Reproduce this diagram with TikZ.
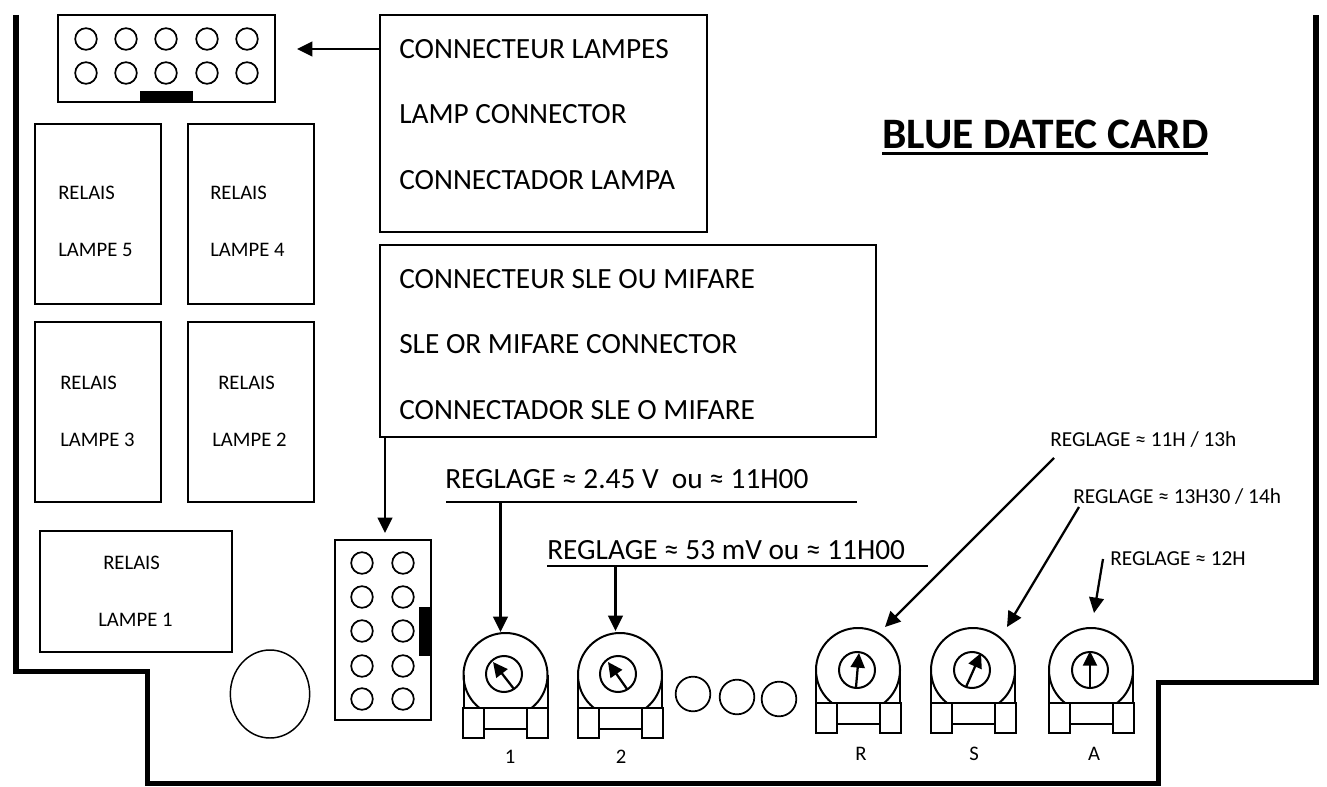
\documentclass[tikz,border=0pt]{standalone}
\usepackage{fontspec}
\setmainfont{Carlito}
\usetikzlibrary{arrows.meta,shapes.geometric}
\newcommand{\fs}[1]{\fontsize{#1}{#1}\selectfont}
\tikzset{
 x=0.75pt,y=-0.75pt,
 thin line/.style={draw=black,line width=1.5pt},
 rectnode/.style={draw=black,line width=1.5pt,fill=white,inner sep=0pt,outer sep=0pt},
 pin/.style={circle,draw=black,line width=1.3pt,inner sep=0pt,minimum size=16.2pt},
 lab/.style={anchor=west,inner sep=0pt,font=\fs{22}},
 rel/.style={anchor=west,inner sep=0pt,font=\fs{15.5}},
 digit/.style={anchor=center,inner sep=0pt,font=\fs{15.5}},
 small/.style={anchor=west,inner sep=0pt,font=\fs{16}},
 arr/.style={draw=black,line width=1.7pt,-{Triangle[length=11.5pt,width=11pt]}},
 outline/.style={draw=black,line width=4.4pt,line cap=butt,line join=miter},
 round/.style={circle,draw=black,line width=1.3pt,inner sep=0pt,minimum size=26pt},
}
\newcommand{\bx}[6][]{\node[rectnode,minimum width=(#5-#3)*0.75pt,minimum height=(#6-#4)*0.75pt,#1] (#2) at ({(#3+#5)/2},{(#4+#6)/2}) {};}
\newcommand{\pot}[6]{%
 \begin{scope}[shift={(#2,#3)}]
  \draw[thin line] (-42,0) -- (-42,33);
  \draw[thin line] (42,0) -- (42,33);
  \begin{scope}
   \clip (-60,-60) rectangle (60,33);
   \draw[thin line] (0,0) circle[radius=42];
  \end{scope}
  \draw[thin line] (-42,33) -- (42,33);
  \node[rectnode,minimum width=44*0.75pt,minimum height=21*0.75pt] (#1m) at (0,43.5) {};
  \node[rectnode,minimum width=21*0.75pt,minimum height=30*0.75pt] (#1l) at (-32,48) {};
  \node[rectnode,minimum width=21*0.75pt,minimum height=30*0.75pt] (#1r) at (32,48) {};
  \node[circle,draw=black,line width=1.5pt,inner sep=0pt,minimum size=27pt] (#1c) at (#4) {};
  \coordinate (#1s) at (#5);
  \coordinate (#1e) at (#6);
  \draw[draw=black,line width=1.7pt,-{Triangle[length=11pt,width=10.5pt]}] (#1s) -- (#1e);
 \end{scope}}
\begin{document}
\begin{tikzpicture}
\useasboundingbox (0,0) rectangle (1327,787);
\fill[white] (0,0) rectangle (1327,787);
% outline
\draw[outline] (16,15) -- (16,671.5) -- (147.5,671.5) -- (147.5,783.5) -- (1158.5,783.5) -- (1158.5,682.5) -- (1316,682.5) -- (1316,15);
% lamp connector
\bx{lampconn}{58}{15}{275}{102}
\fill[black] (140,91) rectangle (193,102.5);
\foreach \x/\i in {86/1,126/2,166/3,207/4,247/5}{
 \node[pin] (lu\i) at (\x,39) {};
 \node[pin] (ld\i) at (\x,73) {};
}
% lamp box
\bx{lampbox}{380}{15}{707}{232}
\node[lab] (t1) at (399,49) {CONNECTEUR LAMPES};
\node[lab] (t2) at (399,114) {LAMP CONNECTOR};
\node[lab] (t3) at (399,180) {CONNECTADOR LAMPA};
\coordinate (lampfrom) at (380,49);
\coordinate (lampto) at (297,49);
\draw[arr] (lampfrom) -- (lampto);
% relays
\bx{r5}{35}{124}{161}{304}
\bx{r4}{188}{124}{314}{304}
\bx{r3}{35}{322}{161}{502}
\bx{r2}{188}{322}{314}{502}
\bx{r1}{40}{531}{232}{652}
\node[rel] (r5a) at (58,193) {RELAIS};
\node[rel] (r5b) at (58,250) {LAMPE 5};
\node[rel] (r4a) at (210,193) {RELAIS};
\node[rel] (r4b) at (210,250) {LAMPE 4};
\node[rel] (r3a) at (60,383) {RELAIS};
\node[rel] (r3b) at (60,440) {LAMPE 3};
\node[rel] (r2a) at (218,383) {RELAIS};
\node[rel] (r2b) at (212,440) {LAMPE 2};
\node[rel] (r1a) at (103,563) {RELAIS};
\node[rel] (r1b) at (98,620) {LAMPE 1};
% SLE box
\bx{slebox}{380}{245}{876}{437}
\node[lab] (s1) at (399,279) {CONNECTEUR SLE OU MIFARE};
\node[lab] (s2) at (399,344) {SLE OR MIFARE CONNECTOR};
\node[lab] (s3) at (399,410) {CONNECTADOR SLE O MIFARE};
% SLE connector
\bx{sleconn}{335}{540}{431}{720}
\fill[black] (419,607) rectangle (431,656);
\foreach \y/\i in {563/1,597/2,631/3,666/4,699/5}{
 \node[pin] (sa\i) at (362,\y) {};
 \node[pin] (sb\i) at (403,\y) {};
}
\coordinate (slefrom) at (385,437);
\coordinate (sleto) at (385,533);
\draw[arr] (slefrom) -- (sleto);
% title
\node[anchor=west,inner sep=0pt,font=\fs{32.6}\bfseries] (title) at (882,134) {BLUE DATEC CARD};
\coordinate (tua) at (882,153.5); \coordinate (tub) at (1208,153.5);
\draw[draw=black,line width=2.2pt] (tua) -- (tub);
% ellipse and circles
\node[ellipse,draw=black,line width=1.1pt,inner sep=0pt,minimum width=59.5pt,minimum height=66pt] (big) at (270,694) {};
\node[round] (c1) at (693,694) {};
\node[round] (c2) at (737,697) {};
\node[round] (c3) at (779,699) {};
% pots
\pot{p1}{505.5}{675}{-1.5,-1}{8.5,14}{-12.5,-13}
\pot{p2}{620}{675}{-2,-1}{7,14}{-12,-13}
\pot{pR}{858}{670}{-1,0}{-2,17}{1,-17}
\pot{pS}{973}{670}{-1,0}{-7,17}{8,-17}
\pot{pA}{1091}{670}{-1,0}{-1,18}{-1,-19}
\node[digit] (n1) at (510,757) {1};
\node[digit] (n2) at (621,757) {2};
\node[digit] (nR) at (861,754) {R};
\node[digit] (nS) at (974,754) {S};
\node[digit] (nA) at (1094,754) {A};
% reglage
\node[lab] (g1) at (445,479) {REGLAGE ≈ 2.45 V\ \ ou ≈ 11H00};
\coordinate (u1a) at (446,502); \coordinate (u1b) at (857,502);
\draw[thin line] (u1a) -- (u1b);
\node[lab] (g2) at (547,550) {REGLAGE ≈ 53 mV ou ≈ 11H00};
\coordinate (u2a) at (547,566); \coordinate (u2b) at (928,566);
\draw[thin line] (u2a) -- (u2b);
\coordinate (a1f) at (500.5,502); \coordinate (a1t) at (500.5,632);
\draw[arr] (a1f) -- (a1t);
\coordinate (a2f) at (615.5,566); \coordinate (a2t) at (615.5,631);
\draw[arr] (a2f) -- (a2t);
\node[small] (g3) at (1050,440) {REGLAGE ≈ 11H / 13h};
\node[small] (g4) at (1073,497) {REGLAGE ≈ 13H30 / 14h};
\node[small] (g5) at (1110,559) {REGLAGE ≈ 12H};
\coordinate (a3f) at (1054,458); \coordinate (a3t) at (885,627);
\coordinate (a4f) at (1079,507); \coordinate (a4t) at (1007,627);
\coordinate (a5f) at (1103,559); \coordinate (a5t) at (1094,613);
\draw[arr] (a3f) -- (a3t);
\draw[arr] (a4f) -- (a4t);
\draw[arr] (a5f) -- (a5t);
\end{tikzpicture}
\end{document}
